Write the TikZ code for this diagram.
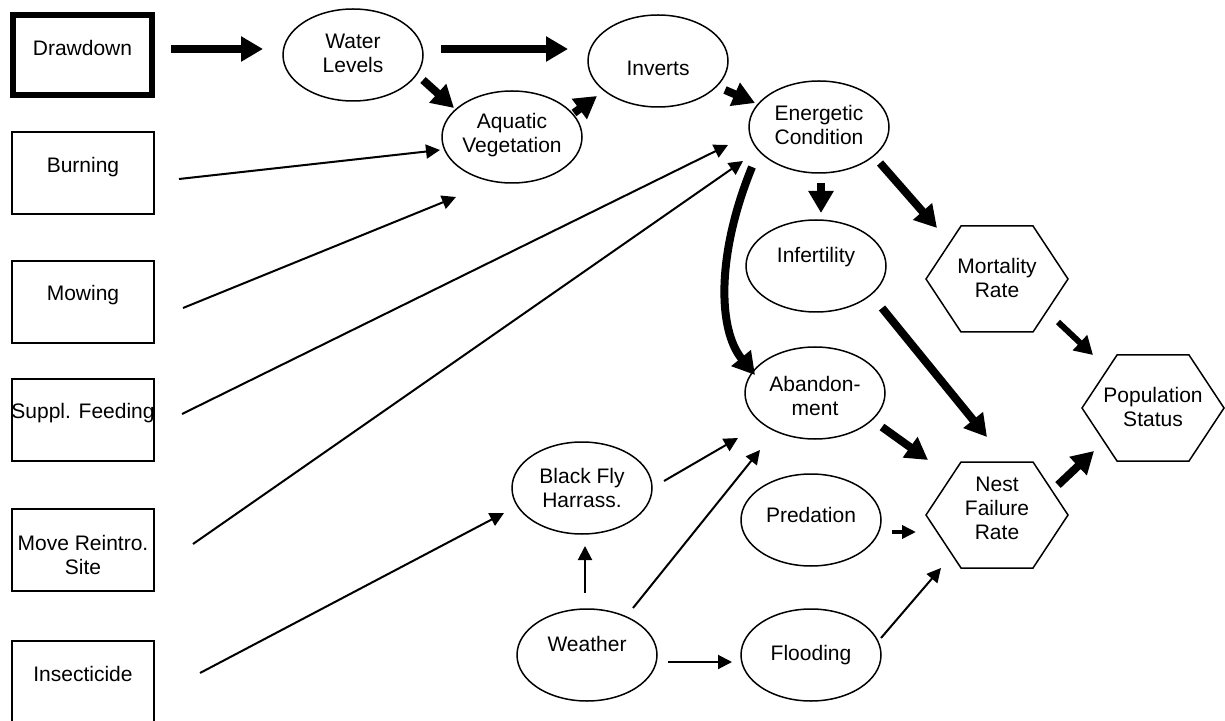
\documentclass[tikz,border=0pt]{standalone}
\usepackage{fontspec}
\setmainfont{Liberation Sans}
\usetikzlibrary{arrows.meta,calc,shapes.geometric}
\newcommand\hexat[1]{\draw[shapeline] ($(#1)+(-71,0)$) -- ($(#1)+(-36,-53)$) -- ($(#1)+(36,-53)$) -- ($(#1)+(71,0)$) -- ($(#1)+(36,53)$) -- ($(#1)+(-36,53)$) -- cycle;}
\begin{document}
\begin{tikzpicture}[x=0.5pt,y=-0.5pt,
 txt/.style={font=\fontsize{10.5}{12}\selectfont, align=center, inner sep=0pt},
 shapeline/.style={line width=0.75pt},
 box/.style={draw, shapeline, minimum width=71pt, minimum height=41pt, inner sep=0pt},
 thickbox/.style={draw, line width=3pt, minimum width=69.5pt, minimum height=40pt, inner sep=0pt},
 ell/.style={draw, shapeline, ellipse, minimum width=70pt, minimum height=46pt, inner sep=0pt},
 hexn/.style={minimum width=71pt, minimum height=53pt, inner sep=0pt},
 tarr/.style={line width=4pt, -{Triangle[length=11pt,width=12pt]}},
 marr/.style={line width=3pt, -{Triangle[length=9pt,width=10pt]}},
 parr/.style={line width=2pt, -{Triangle[length=7pt,width=6.5pt]}},
 sarr/.style={line width=1pt, -{Triangle[length=7pt,width=7pt]}},
]
\useasboundingbox (0,0) rectangle (1225,721);
% left column boxes
\node[thickbox, label={[txt,yshift=3.5pt]center:Drawdown}] (dd) at (82.5,55) {};
\node[box, label={[txt,yshift=3pt]center:Burning}] (bur) at (83,173) {};
\node[box, label={[txt,yshift=3.5pt]center:Mowing}] (mow) at (83,302) {};
\node[box, label={[txt,yshift=3.5pt]center:Suppl. Feeding}] (sup) at (83,420) {};
\node[box, label={[txt,yshift=-2.5pt]center:{Move Reintro.\\Site}}] (mov) at (83,550) {};
\node[box, label={[txt,yshift=4pt]center:Insecticide}] (ins) at (83,682) {};
% ellipses
\node[ell, label={[txt,yshift=0.75pt]center:{Water\\Levels}}] (wl) at (353,55) {};
\node[ell, label={[txt,yshift=-3.5pt]center:Inverts}] (inv) at (658,61) {};
\node[ell, label={[txt,yshift=0.75pt]center:{Aquatic\\Vegetation}}] (av) at (512,137) {};
\node[ell, label={[txt,yshift=1.25pt]center:{Energetic\\Condition}}] (ec) at (819,127) {};
\node[ell, label={[txt,yshift=4.5pt]center:Infertility}] (inf) at (816,266) {};
\node[ell, label={[txt,yshift=-1.5pt]center:{Abandon-\\ment}}] (ab) at (815,393) {};
\node[ell, label={[txt,yshift=2.5pt]center:Predation}] (pre) at (811,520) {};
\node[ell, label={[txt]center:{Black Fly\\Harrass.}}] (bf) at (582,488) {};
\node[ell, label={[txt,yshift=5.5pt]center:Weather}] (we) at (587,655) {};
\node[ell, label={[txt]center:Flooding}] (fl) at (811,655) {};
% hexagons
\node[hexn, label={[txt,yshift=0.75pt]center:{Mortality\\Rate}}] (mr) at (997,279) {};
\node[hexn, label={[txt,yshift=0.5pt]center:{Population\\Status}}] (ps) at (1153,408) {};
\node[hexn, label={[txt,yshift=3.5pt]center:{Nest\\Failure\\Rate}}] (nf) at (997,515) {};
\hexat{mr}
\hexat{ps}
\hexat{nf}
% thick arrows
\draw[tarr] ($(dd)+(88.5,-6)$) -- ($(wl)+(-90,-6)$);
\draw[tarr] ($(wl)+(88,-6)$) -- ($(inv)+(-90,-12)$);
\draw[tarr] ($(wl)+(70,25)$) -- ($(av)+(-58,-29)$);
\draw[tarr] ($(av)+(62,-24)$) -- ($(inv)+(-61,35)$);
\draw[tarr] ($(inv)+(67,29)$) -- ($(ec)+(-64,-24)$);
\draw[tarr] ($(ec)+(2,56)$) -- ($(inf)+(5,-53)$);
\draw[tarr] ($(ec)+(61,36)$) -- ($(mr)+(-60,-51)$);
\draw[tarr] ($(ec)+(-67,40)$) .. controls ($(ec)+(-103,128)$) and ($(ab)+(-97,-63)$) .. ($(ab)+(-60,-18)$);
\draw[tarr] ($(inf)+(66,42)$) -- ($(nf)+(-10,-78)$);
\draw[tarr] ($(ab)+(67,34)$) -- ($(nf)+(-69,-55)$);
\draw[tarr] ($(nf)+(61,-30)$) -- ($(ps)+(-59,43)$);
\draw[marr] ($(mr)+(61,43)$) -- ($(ps)+(-60,-53)$);
% thin arrows
\draw[sarr] ($(bur)+(96,6)$) -- ($(av)+(-72,13)$);
\draw[sarr] ($(mow)+(100,6)$) -- ($(av)+(-56,60)$);
\draw[sarr] ($(sup)+(99,-6)$) -- ($(ec)+(-91,18)$);
\draw[sarr] ($(mov)+(110,-6)$) -- ($(ec)+(-76,34)$);
\draw[sarr] ($(ins)+(117,-9)$) -- ($(bf)+(-78,25)$);
\draw[sarr] ($(bf)+(82,-7)$) -- ($(ab)+(-77,45)$);
\draw[sarr] ($(we)+(46,-47)$) -- ($(ab)+(-55,57)$);
\draw[sarr] ($(we)+(-2,-62)$) -- ($(bf)+(3,58)$);
\draw[sarr] ($(we)+(81,7)$) -- ($(fl)+(-79,7)$);
\draw[parr] ($(pre)+(81,12)$) -- ($(nf)+(-81,17)$);
\draw[sarr] ($(fl)+(70,-17)$) -- ($(nf)+(-56,53)$);
\end{tikzpicture}
\end{document}
